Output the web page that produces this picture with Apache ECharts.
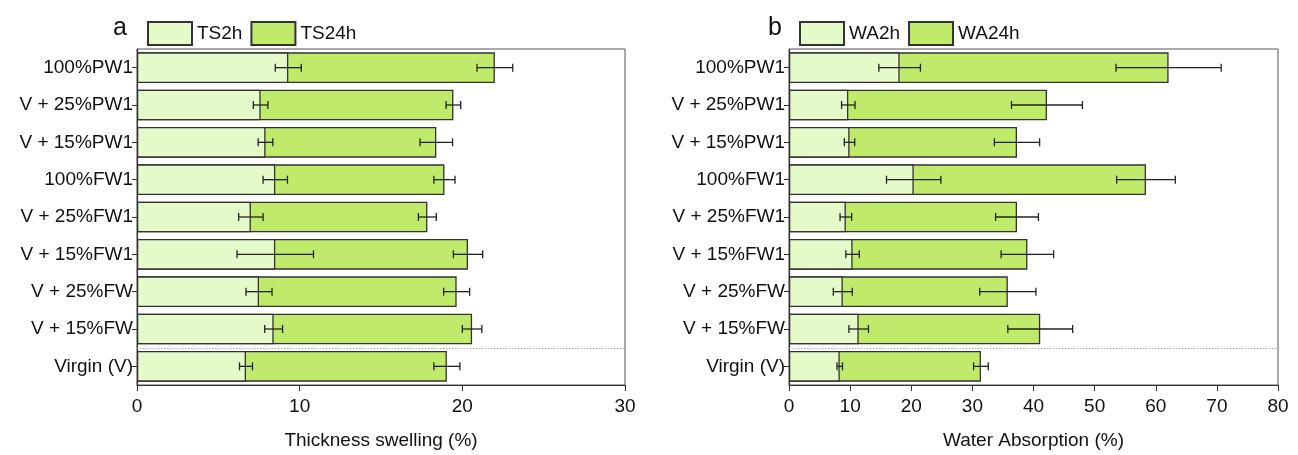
<!DOCTYPE html>
<html>
<head>
<meta charset="utf-8">
<script src="https://cdn.jsdelivr.net/npm/echarts@6/dist/echarts.min.js"></script>
<style>
html,body{margin:0;padding:0;background:#fff;}
#chart{width:1298px;height:455px;}
</style>
</head>
<body>
<div id="chart"></div>
<script>
// Categories (top to bottom)
const categories = ['100%PW1','V + 25%PW1','V + 15%PW1','100%FW1','V + 25%FW1','V + 15%FW1','V + 25%FW','V + 15%FW','Virgin (V)'];
// Dotted separator drawn above this category
const separatorBefore = ['Virgin (V)'];

// Panel a: Thickness swelling (%)
const ts2h     = [9.3, 7.6, 7.9, 8.5, 7.0, 8.5, 7.5, 8.4, 6.7];
const ts2hErr  = [0.8, 0.45, 0.45, 0.75, 0.75, 2.35, 0.8, 0.55, 0.4];
const ts24h    = [22.0, 19.45, 18.4, 18.9, 17.85, 20.35, 19.65, 20.6, 19.05];
const ts24hErr = [1.1, 0.45, 1.0, 0.65, 0.55, 0.9, 0.8, 0.6, 0.8];

// Panel b: Water absorption (%)
const wa2h     = [18.1, 9.7, 9.9, 20.4, 9.3, 10.4, 8.8, 11.4, 8.3];
const wa2hErr  = [3.4, 1.1, 0.85, 4.45, 0.95, 1.1, 1.55, 1.6, 0.45];
const wa24h    = [62.1, 42.2, 37.3, 58.4, 37.3, 39.0, 35.8, 41.1, 31.4];
const wa24hErr = [8.6, 5.8, 3.7, 4.8, 3.5, 4.3, 4.6, 5.3, 1.2];

// Axis ticks
const xTicksA = {min: 0, max: 30, interval: 10};
const xTicksB = {min: 0, max: 80, interval: 10};

const FONT = '"Liberation Sans", Arial, sans-serif';
const LIGHT = '#e4fac8';
const DARK = '#c0eb6a';
const BORDER = '#333';

function errData(vals, errs){
  return vals.map((v,i)=>[v, errs[i], i]);
}
function errRender(params, api){
  const v = api.value(0), e = api.value(1), c = api.value(2);
  const p1 = api.coord([v - e, c]);
  const p2 = api.coord([v + e, c]);
  const h = 4;
  const st = {stroke:'#222', lineWidth:1.3};
  return {type:'group', children:[
    {type:'line', shape:{x1:p1[0], y1:p1[1], x2:p2[0], y2:p2[1]}, style:st},
    {type:'line', shape:{x1:p1[0], y1:p1[1]-h, x2:p1[0], y2:p1[1]+h}, style:st},
    {type:'line', shape:{x1:p2[0], y1:p2[1]-h, x2:p2[0], y2:p2[1]+h}, style:st}
  ]};
}
function sepRender(params, api){
  const c = api.value(1);
  const cs = params.coordSys;
  const p = api.coord([0, c]);
  const band = api.size([0, 1])[1];
  const y = Math.round(p[1] - band / 2) + 0.5;
  return {type:'line', shape:{x1:cs.x, y1:y, x2:cs.x + cs.width, y2:y},
    style:{stroke:'#aaa', lineWidth:1, lineDash:[1.5, 1.5]}};
}

function yAxisCfg(gi){
  return {
    type:'category', gridIndex:gi, data:categories, inverse:true,
    axisLine:{lineStyle:{color:'#333', width:1.2}},
    axisTick:{show:true, alignWithLabel:true, length:5, lineStyle:{color:'#333'}},
    axisLabel:{fontFamily:FONT, fontSize:19, color:'#111', margin:4},
    splitLine:{show:false}
  };
}
function xAxisCfg(gi, t, name){
  return {
    type:'value', gridIndex:gi, min:t.min, max:t.max, interval:t.interval,
    name:name, nameLocation:'middle', nameGap:46,
    nameTextStyle:{fontFamily:FONT, fontSize:19, color:'#111'},
    axisLine:{show:true, lineStyle:{color:'#333', width:1.2}},
    axisTick:{show:true, length:6, lineStyle:{color:'#333'}},
    axisLabel:{fontFamily:FONT, fontSize:19, color:'#111', margin:12},
    splitLine:{show:false}
  };
}
function barSeries(name, data, color, xi, yi){
  return {
    name:name, type:'bar', xAxisIndex:xi, yAxisIndex:yi, data:data,
    barWidth:'82%', barGap:'-100%',
    itemStyle:{color:color, borderColor:BORDER, borderWidth:1.3},
    emphasis:{disabled:true}, animation:false
  };
}
function errSeries(name, vals, errs, xi, yi){
  return {
    name:name+'_err', type:'custom', xAxisIndex:xi, yAxisIndex:yi,
    data:errData(vals, errs), encode:{x:0, y:2},
    renderItem:errRender, z:10, animation:false, silent:true
  };
}
function sepSeries(xi, yi){
  return {
    name:'sep'+xi, type:'custom', xAxisIndex:xi, yAxisIndex:yi,
    data:separatorBefore.map(c=>[0, categories.indexOf(c)]), encode:{x:0, y:1},
    renderItem:sepRender, z:1, animation:false, silent:true
  };
}

const legendText = {fontFamily:FONT, fontSize:19, color:'#111'};
const chart = echarts.init(document.getElementById('chart'), null, {renderer:'canvas'});
chart.setOption({
  animation:false,
  backgroundColor:'#fff',
  title:[
    {text:'a', left:108, top:11, textStyle:{fontFamily:FONT, fontSize:25, fontWeight:'normal', color:'#111'}},
    {text:'b', left:763, top:11, textStyle:{fontFamily:FONT, fontSize:25, fontWeight:'normal', color:'#111'}}
  ],
  legend:[
    {data:['TS2h','TS24h'], left:142, top:16, itemWidth:44, itemHeight:23, itemGap:8, textStyle:legendText, icon:'rect', selectedMode:false},
    {data:['WA2h','WA24h'], left:794, top:16, itemWidth:44, itemHeight:23, itemGap:8, textStyle:legendText, icon:'rect', selectedMode:false}
  ],
  grid:[
    {left:137, top:49, width:488, height:343, show:true, borderColor:'#555', borderWidth:1},
    {left:789, top:49, width:489, height:343, show:true, borderColor:'#555', borderWidth:1}
  ],
  xAxis:[xAxisCfg(0, xTicksA, 'Thickness swelling (%)'), xAxisCfg(1, xTicksB, 'Water Absorption (%)')],
  yAxis:[yAxisCfg(0), yAxisCfg(1)],
  series:[
    sepSeries(0, 0),
    barSeries('TS24h', ts24h, DARK, 0, 0),
    barSeries('TS2h', ts2h, LIGHT, 0, 0),
    errSeries('TS2h', ts2h, ts2hErr, 0, 0),
    errSeries('TS24h', ts24h, ts24hErr, 0, 0),
    sepSeries(1, 1),
    barSeries('WA24h', wa24h, DARK, 1, 1),
    barSeries('WA2h', wa2h, LIGHT, 1, 1),
    errSeries('WA2h', wa2h, wa2hErr, 1, 1),
    errSeries('WA24h', wa24h, wa24hErr, 1, 1)
  ]
});
</script>
</body>
</html>
